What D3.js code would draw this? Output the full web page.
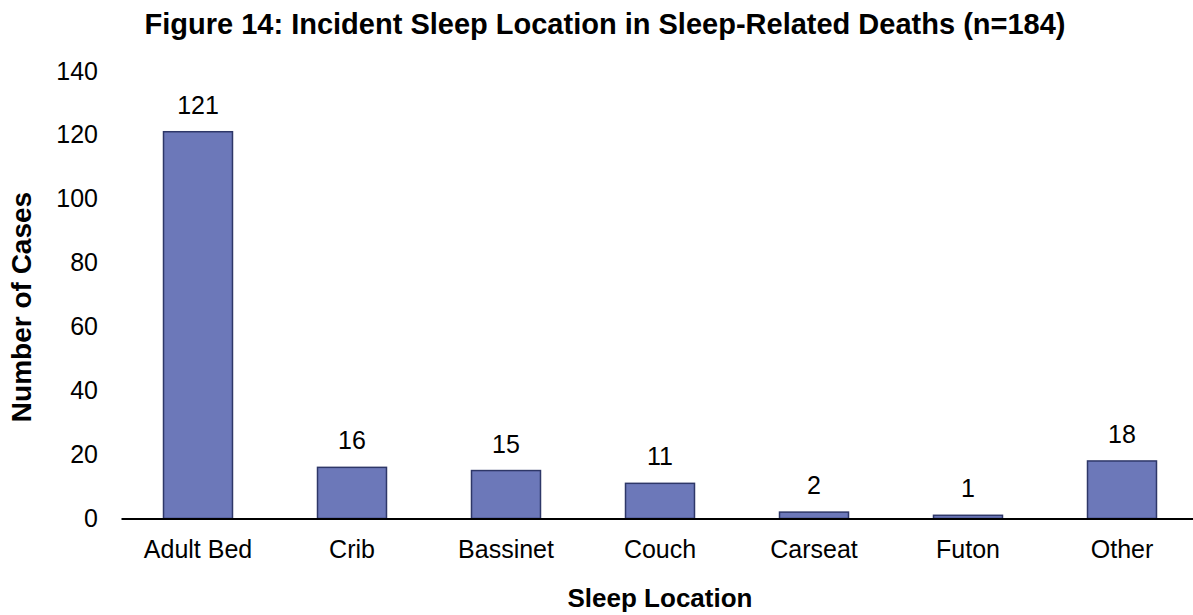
<!DOCTYPE html>
<html>
<head>
<meta charset="utf-8">
<script src="https://cdn.jsdelivr.net/npm/d3@7"></script>
<style>
  body { margin: 0; background: #fff; }
  text { font-family: Arial, "Liberation Sans", sans-serif; fill: #000; }
</style>
</head>
<body>
<div id="chart"></div>
<script>
var categories = ['Adult Bed', 'Crib', 'Bassinet', 'Couch', 'Carseat', 'Futon', 'Other'];
var cases = [121, 16, 15, 11, 2, 1, 18];
var yTicks = [0, 20, 40, 60, 80, 100, 120, 140];

var width = 1193, height = 615;
var plotLeft = 121, plotRight = 1199, plotTop = 71, plotBottom = 518.5;

var svg = d3.select('#chart').append('svg').attr('width', width).attr('height', height);

var x = d3.scaleBand().domain(categories).range([plotLeft, plotRight]).paddingInner(0.552).paddingOuter(0.276);
var y = d3.scaleLinear().domain([0, 140]).range([plotBottom, plotTop]);

// title
svg.append('text')
    .attr('x', 605).attr('y', 34)
    .attr('text-anchor', 'middle')
    .style('font-size', '29px').style('font-weight', 'bold')
    .text('Figure 14: Incident Sleep Location in Sleep-Related Deaths (n=184)');

// y tick labels (no axis line)
var yAxis = svg.append('g')
    .attr('transform', 'translate(' + plotLeft + ',0)')
    .call(d3.axisLeft(y).tickValues(yTicks).tickSize(0).tickPadding(23));
yAxis.select('.domain').remove();
yAxis.selectAll('text').style('font-size', '25px').style('font-family', 'Arial, "Liberation Sans", sans-serif').attr('fill', '#000');

// bars
svg.selectAll('rect.bar')
    .data(cases)
    .enter().append('rect')
    .attr('class', 'bar')
    .attr('x', function(d, i) { return x(categories[i]); })
    .attr('y', function(d) { return y(d); })
    .attr('width', x.bandwidth())
    .attr('height', function(d) { return y(0) - y(d); })
    .attr('fill', '#6C78B9')
    .attr('stroke', '#2E3768')
    .attr('stroke-width', 1.5);

// value labels
svg.selectAll('text.val')
    .data(cases)
    .enter().append('text')
    .attr('class', 'val')
    .attr('x', function(d, i) { return x(categories[i]) + x.bandwidth() / 2; })
    .attr('y', function(d) { return y(d) - 18; })
    .attr('text-anchor', 'middle')
    .style('font-size', '25px')
    .text(function(d) { return d; });

// x axis
var xAxis = svg.append('g')
    .attr('transform', 'translate(0,' + plotBottom + ')')
    .call(d3.axisBottom(x).tickSize(0).tickPadding(22));
xAxis.select('.domain').attr('stroke', '#000').attr('stroke-width', 2);
xAxis.selectAll('text').style('font-size', '25px').style('font-family', 'Arial, "Liberation Sans", sans-serif').attr('fill', '#000');

// axis titles
svg.append('text')
    .attr('x', (plotLeft + plotRight) / 2).attr('y', 607)
    .attr('text-anchor', 'middle')
    .style('font-size', '26px').style('font-weight', 'bold')
    .text('Sleep Location');

svg.append('text')
    .attr('transform', 'translate(31,' + 307 + ') rotate(-90)')
    .attr('text-anchor', 'middle')
    .style('font-size', '28px').style('font-weight', 'bold')
    .text('Number of Cases');
</script>
</body>
</html>
